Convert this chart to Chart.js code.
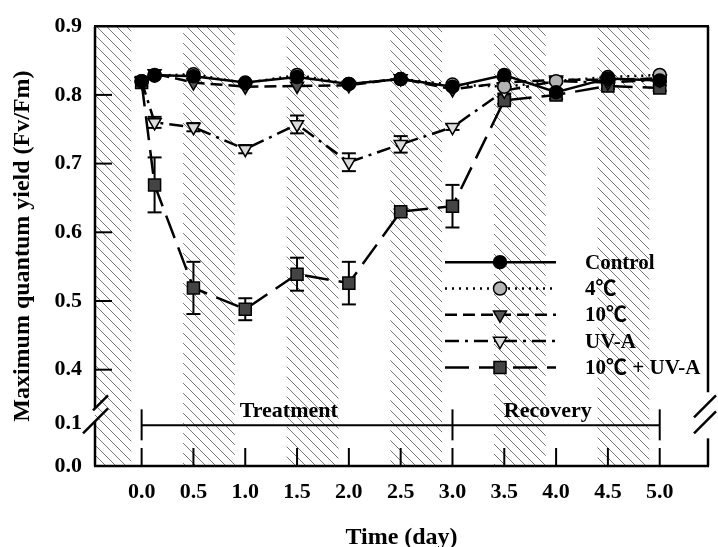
<!DOCTYPE html>
<html>
<head>
<meta charset="utf-8">
<script src="https://cdn.jsdelivr.net/npm/chart.js@4.4.1/dist/chart.umd.min.js"></script>
<style>
  body { margin: 0; background: #fff; }
  #wrap { width: 718px; height: 547px; }
</style>
</head>
<body>
<div id="wrap"><canvas id="myChart"></canvas></div>
<script>
// sampling times (day)
const time = [0, 0.125, 0.5, 1.0, 1.5, 2.0, 2.5, 3.0, 3.5, 4.0, 4.5, 5.0];

// Fv/Fm means per treatment
const control = [0.820, 0.829, 0.827, 0.818, 0.826, 0.816, 0.823, 0.812, 0.829, 0.804, 0.824, 0.821];
const temp4   = [0.820, 0.828, 0.830, 0.817, 0.829, 0.816, 0.823, 0.815, 0.812, 0.820, 0.826, 0.829];
const temp10  = [0.820, 0.831, 0.818, 0.812, 0.813, 0.814, 0.824, 0.808, 0.818, 0.822, 0.822, 0.824];
const uva     = [0.820, 0.760, 0.753, 0.721, 0.757, 0.702, 0.728, 0.753, 0.806, 0.820, 0.818, 0.822];
const combo   = [0.818, 0.669, 0.519, 0.488, 0.539, 0.526, 0.630, 0.638, 0.792, 0.800, 0.813, 0.810];

// error bars (SE)
const controlErr = [0, 0, 0, 0, 0, 0, 0, 0, 0, 0, 0, 0];
const temp4Err   = [0, 0, 0, 0, 0, 0, 0, 0, 0, 0, 0, 0];
const temp10Err  = [0, 0, 0, 0, 0, 0, 0, 0, 0, 0, 0, 0];
const uvaErr     = [0, 0.008, 0.006, 0.006, 0.013, 0.013, 0.012, 0.004, 0.004, 0.003, 0.003, 0.003];
const comboErr   = [0, 0.040, 0.038, 0.016, 0.024, 0.031, 0.004, 0.031, 0.005, 0.006, 0.004, 0.004];

const seriesNames = ['Control', '4℃', '10℃', 'UV-A', '10℃ + UV-A'];
const xTicks = [0, 0.5, 1.0, 1.5, 2.0, 2.5, 3.0, 3.5, 4.0, 4.5, 5.0];
const yTicks = [0, 0.1, 0.4, 0.5, 0.6, 0.7, 0.8, 0.9];

// dark periods (hatched bands), in days
const darkStart = [-0.6, 0.4, 1.4, 2.4, 3.4, 4.4];
const darkEnd   = [-0.1, 0.9, 1.9, 2.9, 3.9, 4.9];

// experiment phases
const phaseNames = ['Treatment', 'Recovery'];
const phaseBounds = [0, 3, 5];
const phaseLabelX = [1.42, 3.92];

const FONT = "'Liberation Serif', 'Times New Roman', 'Noto Sans CJK KR', serif";
Chart.defaults.color = '#000';
Chart.defaults.font.family = FONT;

// y axis with a break between 0.1 and 0.4
const breakVals = [0, 0.1, 0.4, 0.9];
const breakFrac = [0, 0.097, 0.219, 1];

class BrokenScale extends Chart.LinearScale {
  getPixelForValue(v) {
    if (v === null || isNaN(v)) return NaN;
    let i = 1;
    while (i < breakVals.length - 1 && v > breakVals[i]) i++;
    const a = breakVals[i - 1], b = breakVals[i];
    const d = breakFrac[i - 1] + (v - a) / (b - a) * (breakFrac[i] - breakFrac[i - 1]);
    return this.getPixelForDecimal(d);
  }
  getValueForPixel(p) {
    const d = this.getDecimalForPixel(p);
    let i = 1;
    while (i < breakFrac.length - 1 && d > breakFrac[i]) i++;
    const a = breakFrac[i - 1], b = breakFrac[i];
    return breakVals[i - 1] + (d - a) / (b - a) * (breakVals[i] - breakVals[i - 1]);
  }
}
BrokenScale.id = 'broken';
BrokenScale.defaults = Chart.LinearScale.defaults;
Chart.register(BrokenScale);

let hatch;
function getHatch(ctx) {
  if (hatch) return hatch;
  const s = 10;
  const pc = document.createElement('canvas');
  pc.width = s; pc.height = s;
  const g = pc.getContext('2d');
  g.strokeStyle = '#666';
  g.lineWidth = 0.9;
  g.beginPath();
  [-1, 0, 1].forEach(k => { g.moveTo(k * s, 0); g.lineTo(k * s + s, s); });
  g.stroke();
  hatch = ctx.createPattern(pc, 'repeat');
  return hatch;
}

function line(ctx, x1, y1, x2, y2) {
  ctx.beginPath(); ctx.moveTo(x1, y1); ctx.lineTo(x2, y2); ctx.stroke();
}

const decor = {
  id: 'decor',
  beforeDatasetsDraw(chart) {
    const {ctx, chartArea: a, scales: {x, y}} = chart;
    ctx.save();
    ctx.fillStyle = getHatch(ctx);
    darkStart.forEach((s, i) => {
      const l = Math.max(a.left, x.getPixelForValue(s));
      const r = Math.min(a.right, x.getPixelForValue(darkEnd[i]));
      ctx.fillRect(l, a.top, r - l, a.bottom - a.top);
    });
    // error bars
    ctx.strokeStyle = '#000';
    ctx.lineWidth = 2;
    chart.data.datasets.forEach(ds => {
      ds.data.forEach((p, i) => {
        const e = ds.errors[i];
        if (!e) return;
        const px = x.getPixelForValue(p.x);
        const y1 = y.getPixelForValue(p.y + e), y2 = y.getPixelForValue(p.y - e);
        line(ctx, px, y1, px, y2);
        line(ctx, px - 7, y1, px + 7, y1);
        line(ctx, px - 7, y2, px + 7, y2);
      });
    });
    ctx.restore();
  },
  afterDatasetsDraw(chart) {
    const {ctx, chartArea: a, scales: {x, y}} = chart;
    ctx.save();
    ctx.strokeStyle = '#000';
    ctx.lineWidth = 2.5;
    const L = a.left, R = a.right, T = a.top, B = a.bottom;
    const y01 = y.getPixelForValue(0.1);
    // frame with axis breaks
    line(ctx, L - 1, T, R + 1, T);
    line(ctx, L - 1, B, R + 1, B);
    line(ctx, L, T, L, y01 - 15);
    line(ctx, L, y01 - 2, L, B);
    line(ctx, L - 2, y01 - 13, L + 13, y01 - 28);
    line(ctx, L - 12, y01 + 10, L + 13, y01 - 15);
    line(ctx, R, T, R, y01 - 31);
    line(ctx, R, y01 + 15, R, B);
    line(ctx, R - 14, y01 - 6, R + 8, y01 - 28);
    line(ctx, R - 14, y01 + 10, R + 8, y01 - 12);
    // inward ticks
    ctx.lineWidth = 2;
    yTicks.filter(v => v >= 0.4 && v < 0.9).forEach(v => {
      const py = y.getPixelForValue(v);
      line(ctx, L, py, L + 17, py);
    });
    xTicks.forEach(v => {
      const px = x.getPixelForValue(v);
      line(ctx, px, B, px, B - 18);
    });
    // treatment / recovery bar
    const yb = y01 + 2;
    line(ctx, x.getPixelForValue(phaseBounds[0]), yb, x.getPixelForValue(phaseBounds[phaseBounds.length - 1]), yb);
    phaseBounds.forEach(v => {
      const px = x.getPixelForValue(v);
      line(ctx, px, yb - 16, px, yb + 15);
    });
    ctx.fillStyle = '#000';
    ctx.font = 'bold 22px ' + FONT;
    ctx.textAlign = 'center';
    ctx.textBaseline = 'alphabetic';
    phaseNames.forEach((n, i) => ctx.fillText(n, x.getPixelForValue(phaseLabelX[i]), yb - 8));
    // legend
    const lx1 = R - 263, lx2 = R - 152, mx = R - 208, tx = R - 123;
    ctx.font = 'bold 21px ' + FONT;
    ctx.textAlign = 'left';
    ctx.textBaseline = 'middle';
    chart.data.datasets.forEach((ds, i) => {
      const ry = T + 236 + i * 26.3;
      ctx.lineWidth = ds.borderWidth;
      ctx.strokeStyle = ds.borderColor;
      ctx.setLineDash(ds.borderDash || []);
      line(ctx, lx1, ry, lx2, ry);
      ctx.setLineDash([]);
      ctx.fillStyle = ds.pointBackgroundColor;
      ctx.strokeStyle = '#000';
      ctx.lineWidth = ds.pointBorderWidth;
      Chart.helpers.drawPoint(ctx, {
        pointStyle: ds.pointStyle, radius: ds.pointRadius,
        rotation: ds.pointRotation || 0, borderWidth: ds.pointBorderWidth
      }, mx, ry);
      ctx.fillStyle = '#000';
      ctx.fillText(ds.label, tx, ry + 1);
    });
    ctx.restore();
  }
};

function series(label, vals, errs, dash, style, radius, fill, rot) {
  return {
    label: label,
    data: time.map((t, i) => ({x: t, y: vals[i]})),
    errors: errs,
    borderColor: '#000',
    borderWidth: 2.5,
    borderDash: dash,
    pointStyle: style,
    pointRadius: radius,
    pointRotation: rot || 0,
    pointBackgroundColor: fill,
    pointBorderColor: '#000',
    pointBorderWidth: 1.5,
    fill: false,
    tension: 0
  };
}

const ctx = document.getElementById('myChart');
const tickFont = {family: FONT, size: 22, weight: 'bold'};

new Chart(ctx, {
  type: 'line',
  data: {
    datasets: [
      series(seriesNames[0], control, controlErr, [], 'circle', 6.5, '#000000'),
      series(seriesNames[1], temp4, temp4Err, [2, 5], 'circle', 6.5, '#b4b4b4'),
      series(seriesNames[2], temp10, temp10Err, [12, 6], 'triangle', 7.5, '#555555', 180),
      series(seriesNames[3], uva, uvaErr, [14, 6, 3, 6], 'triangle', 7.5, '#dcdcdc', 180),
      series(seriesNames[4], combo, comboErr, [24, 10], 'rect', 8.5, '#444444')
    ]
  },
  options: {
    responsive: true,
    maintainAspectRatio: false,
    animation: false,
    layout: { padding: { top: 23, right: 7, left: 0, bottom: 0 } },
    plugins: { legend: { display: false }, tooltip: { enabled: false } },
    scales: {
      x: {
        type: 'linear',
        min: -0.45,
        max: 5.466,
        afterBuildTicks: s => { s.ticks = xTicks.map(v => ({value: v})); },
        afterFit: s => { s.height = 81; },
        grid: { display: false, drawTicks: false },
        border: { display: false },
        ticks: { font: tickFont, padding: 13, autoSkip: false, maxRotation: 0, callback: v => v.toFixed(1) },
        title: { display: true, text: 'Time (day)', font: {family: FONT, size: 24, weight: 'bold', lineHeight: 0.8}, padding: { top: 0, bottom: 0 } }
      },
      y: {
        type: 'broken',
        min: 0,
        max: 0.9,
        afterBuildTicks: s => { s.ticks = yTicks.map(v => ({value: v})); },
        afterFit: s => { s.width = 95; },
        grid: { display: false, drawTicks: false },
        border: { display: false },
        ticks: { font: tickFont, padding: 13, autoSkip: false, callback: v => v.toFixed(1) },
        title: { display: true, text: 'Maximum quantum yield (Fv/Fm)', font: {family: FONT, size: 24, weight: 'bold', lineHeight: 1.2}, padding: { top: 8.5, bottom: 0 } }
      }
    }
  },
  plugins: [decor]
});
</script>
</body>
</html>
